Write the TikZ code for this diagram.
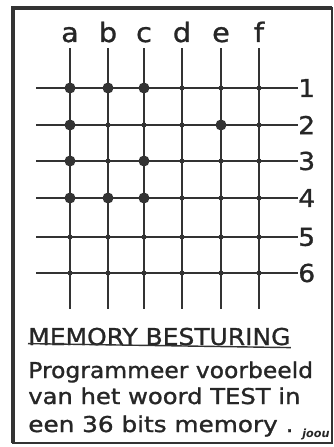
\documentclass[tikz,border=0pt]{standalone}
\usepackage{fontspec}
\setmainfont{DejaVu Sans}
\setsansfont{DejaVu Sans}
\newfontfamily\platefont[FakeStretch=1.075, FakeBold=1.2]{DejaVu Sans}
\begin{document}
\begin{tikzpicture}[
    x=0.025cm, y=-0.025cm,
    font=\platefont,
    ink/.style={draw=black!80},
    wire/.style={ink, line width=1.4pt},
    bit/.style={circle, fill=black!80, inner sep=0pt, minimum size=11*0.025cm},
    cross/.style={circle, fill=black!80, inner sep=0pt, minimum size=5*0.025cm},
    collabel/.style={anchor=base, font=\platefont\fontsize{19}{19}\selectfont, text=black!85},
    rowlabel/.style={anchor=west, inner sep=0pt, font=\platefont\fontsize{17.5}{17.5}\selectfont, text=black!85},
    caption/.style={anchor=base west, inner sep=0pt, text=black!85, font=\platefont\fontsize{15.5}{15.5}\selectfont}
]
\useasboundingbox (0,0) rectangle (334,447);

% --- Frame ---
\draw [ink, line width=1.2pt] (13,8) rectangle (332,443);
\draw [ink, line width=2.6pt] (13,443) -- (13,8) -- (332,8);

% --- Column labels and vertical wires ---
\foreach \c/\x in {a/70, b/108, c/144, d/182, e/221, f/259} {
  \node (col-\c) at (\x,42) [collabel] {\c};
  \coordinate (bot-\c) at (\x,309);
  \draw [wire] (\x,48) -- (bot-\c);
}

% --- Row labels and horizontal wires ---
\foreach \r/\y in {1/88, 2/125, 3/161, 4/198, 5/237, 6/273} {
  \node (row-\r) at (298,\y) [rowlabel] {\r};
  \coordinate (left-\r) at (36,\y);
  \draw [wire] (left-\r) -- (row-\r.west);
  \foreach \x in {70,108,144,182,221,259}
    \node at (\x,\y) [cross] {};
}

% --- Stored bits ---
\foreach \x/\y in {70/88, 108/88, 144/88, 70/125, 221/125, 70/161, 144/161, 70/198, 108/198, 144/198}
  \node at (\x,\y) [bit] {};

% --- Caption ---
\node (title) at (28,345) [caption, font=\platefont\fontsize{16.5}{16.5}\selectfont] {MEMORY BESTURING};
\draw [ink, line width=1pt] (title.south west) ++(0,-2) -- ([yshift=-2*0.025cm]title.south east);
\node (line-1) at (28,378) [caption] {Programmeer voorbeeld};
\node (line-2) at (28,404) [caption] {\scalebox{1.035}[1]{van het woord TEST in}};
\node (line-3) at (28,432) [caption] {\scalebox{1.055}[1]{een 36 bits memory .}};
\node (sign) at (302,437) [caption, font=\bfseries\itshape\fontsize{8}{8}\selectfont] {joou};

\end{tikzpicture}
\end{document}
